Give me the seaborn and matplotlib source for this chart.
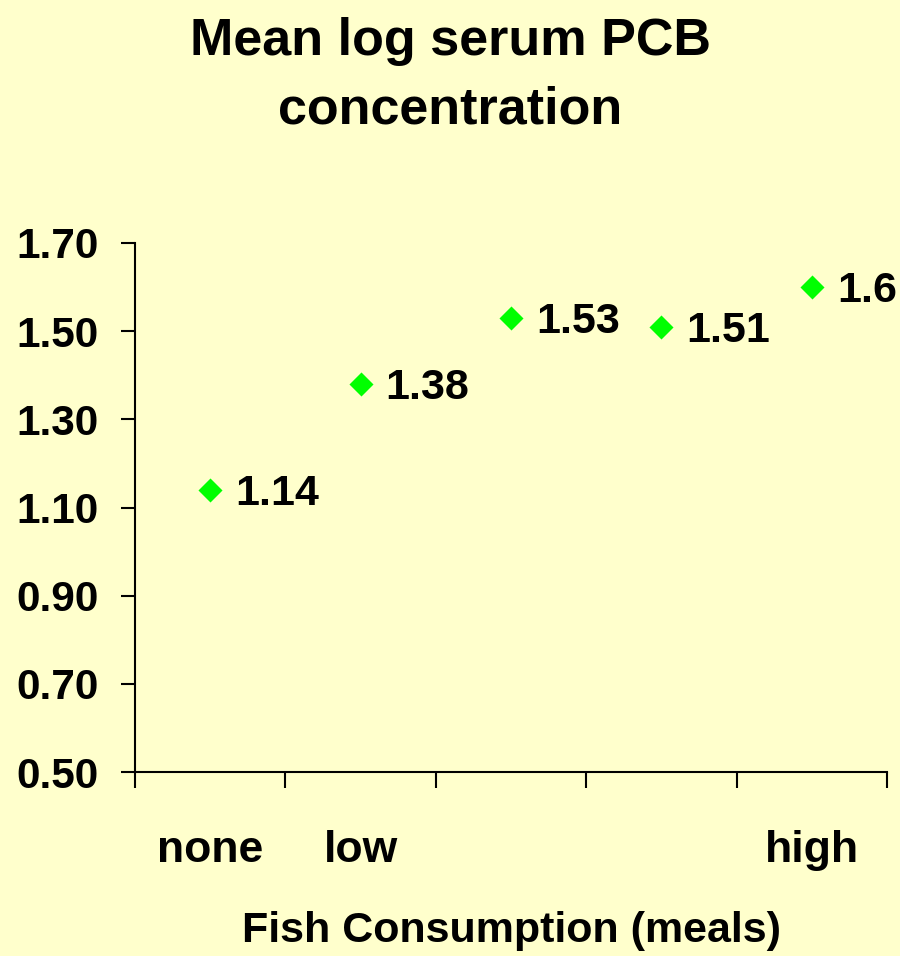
import matplotlib
matplotlib.use("Agg")
import matplotlib.pyplot as plt
import seaborn as sns
import pandas as pd
from matplotlib.ticker import FixedLocator, FuncFormatter

# ---- data ----
categories = ["none", "low", "mid1", "mid2", "high"]
category_labels = ["none", "low", "", "", "high"]
mean_log_pcb = [1.14, 1.38, 1.53, 1.51, 1.60]
value_labels = ["1.14", "1.38", "1.53", "1.51", "1.6"]
y_ticks = [0.50, 0.70, 0.90, 1.10, 1.30, 1.50, 1.70]
title_lines = ["Mean log serum PCB", "concentration"]
x_title = "Fish Consumption (meals)"

BG = "#FFFFCC"
GREEN = "#00FF00"
FONT = "Liberation Sans"

sns.set_theme(style="ticks")
plt.rcParams["font.family"] = [FONT, "DejaVu Sans"]
plt.rcParams["font.weight"] = "bold"

df = pd.DataFrame({"pos": list(range(len(categories))),
                   "cat": categories,
                   "value": mean_log_pcb})

fig = plt.figure(figsize=(9, 9.56), dpi=100, facecolor=BG)
ax = fig.add_axes([135 / 900, 1 - 772 / 956, (887 - 135) / 900, (772 - 243) / 956])
ax.set_facecolor(BG)

sns.scatterplot(data=df, x="pos", y="value", marker="D", s=150,
                color=GREEN, edgecolor=GREEN, linewidth=0, ax=ax, zorder=3,
                legend=False)

for xi, yi, lab in zip(df["pos"], df["value"], value_labels):
    ax.annotate(lab, (xi, yi), xytext=(18, -11), textcoords="offset points",
                ha="left", va="baseline", fontsize=31, fontweight="bold",
                color="black", annotation_clip=False)

ax.set_xlim(-0.5, len(categories) - 0.5)
ax.set_ylim(y_ticks[0], y_ticks[-1])

# y axis
ax.yaxis.set_major_locator(FixedLocator(y_ticks))
ax.yaxis.set_major_formatter(FuncFormatter(lambda v, p: f"{v:.2f}"))
ax.tick_params(axis="y", which="major", direction="out", length=10, width=1.5,
               pad=16, labelsize=30.5, color="black", labelcolor="black")

# x axis: boundary ticks (major) and category labels (minor)
bounds = [i - 0.5 for i in range(len(categories) + 1)]
ax.xaxis.set_major_locator(FixedLocator(bounds))
ax.xaxis.set_major_formatter(FuncFormatter(lambda v, p: ""))
ax.xaxis.set_minor_locator(FixedLocator(list(range(len(categories)))))
ax.set_xticks(list(range(len(categories))), category_labels, minor=True)
ax.tick_params(axis="x", which="major", direction="out", length=11.5, width=1.5,
               color="black")
ax.tick_params(axis="x", which="minor", length=0, pad=42, labelsize=32,
               labelcolor="black")
for t in ax.get_xticklabels(minor=True) + ax.get_yticklabels():
    t.set_fontweight("bold")

ax.set_xlabel(x_title, fontsize=31, fontweight="bold", color="black")
ax.xaxis.set_label_coords(0.5, (772 - 942) / (772 - 243))
ax.xaxis.label.set_va("baseline")
ax.set_ylabel("")

for side in ["top", "right"]:
    ax.spines[side].set_visible(False)
for side in ["left", "bottom"]:
    ax.spines[side].set_linewidth(1.5)
    ax.spines[side].set_color("black")

fig.text(0.5, 1 - 55 / 956, title_lines[0], ha="center", va="baseline",
         fontsize=37.5, fontweight="bold", color="black")
fig.text(0.5, 1 - 123 / 956, title_lines[1], ha="center", va="baseline",
         fontsize=37.5, fontweight="bold", color="black")

fig.savefig("out.png", dpi=100, facecolor=BG)
